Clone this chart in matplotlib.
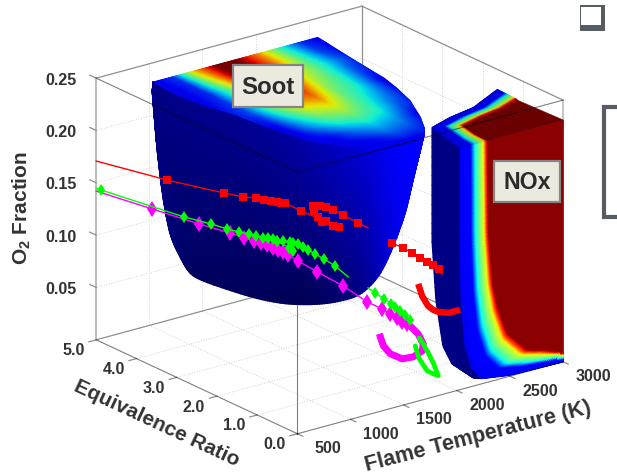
import numpy as np
import matplotlib
matplotlib.use("Agg")
import matplotlib.pyplot as plt
from matplotlib.lines import Line2D
from matplotlib.patches import Rectangle
from matplotlib.transforms import offset_copy
from mpl_toolkits.mplot3d.art3d import Poly3DCollection

plt.rcParams['font.family'] = 'Liberation Sans'
plt.rcParams['mathtext.fontset'] = 'custom'
plt.rcParams['mathtext.bf'] = 'Liberation Sans:bold'

W, H = 617, 472
TEXT = '#333333'

# axes ticks
temp_ticks = [500, 1000, 1500, 2000, 2500, 3000]
phi_ticks = [0.0, 1.0, 2.0, 3.0, 4.0, 5.0]
o2_ticks = [0.05, 0.10, 0.15, 0.20, 0.25]
TOP = 0.2313

# soot top face outline (flame temperature, equivalence ratio)
soot_left_phi = [0.61, 0.68, 0.81, 1.29, 1.60, 2.40, 3.21, 3.85, 4.41, 5.00]
soot_left_T = [1698, 1584, 1465, 1325, 1227, 1154, 1112, 1043, 1021, 1037]
soot_right_phi = [0.61, 0.635, 0.70, 0.96, 1.37, 2.04, 2.59, 3.02, 4.03, 5.00]
soot_right_T = [1698, 1820, 1920, 2058, 2175, 2330, 2410, 2460, 2520, 2585]

# soot level on the top face
soot_table_T = [1000, 1200, 1400, 1600, 1800, 2000, 2200, 2400, 2600]
soot_table_phi = [0.6, 1.0, 1.5, 2.0, 3.0, 4.0, 4.5, 5.0]
soot_table = np.array([
    [.10, .10, .10, .10, .10, .10, .10, .10, .10],
    [.10, .10, .10, .13, .20, .18, .10, .10, .10],
    [.10, .10, .14, .25, .33, .28, .12, .10, .10],
    [.10, .10, .28, .42, .48, .40, .22, .12, .10],
    [.10, .20, .48, .72, .78, .50, .38, .14, .10],
    [.10, .17, .52, .96, 1.0, .66, .45, .25, .10],
    [.10, .17, .62, 1.0, 1.0, .75, .45, .20, .10],
    [.10, .18, .70, 1.0, 1.0, .75, .42, .17, .10],
])

# soot side wall: upper rim and lower silhouette, paired
rim_T = [1037, 1037, 1037, 1037, 1020, 1021, 1043, 1112, 1154, 1227, 1325, 1465, 1584, 1698, 1820, 1920, 2032, 2058]
rim_phi = [5.0, 5.0, 5.0, 5.0, 4.79, 4.41, 3.85, 3.21, 2.40, 1.60, 1.29, 0.81, 0.68, 0.61, 0.635, 0.70, 0.90, 0.96]
low_T = [800, 827, 859, 896, 950, 1003, 1094, 1340, 1501, 1646, 1769, 1913, 2020, 2101, 2159, 2192, 2234, 2256]
low_phi = [4.40, 4.35, 4.28, 4.21, 4.10, 3.99, 3.81, 3.32, 3.00, 2.71, 2.46, 2.17, 1.96, 1.80, 1.68, 1.62, 1.53, 1.49]
low_o2 = [.2401, .1831, .1356, .1025, .0820, .0662, .0594, .0471, .0427, .0430, .0460, .0538, .0738, .1060, .1370, .1630, .1949, .2113]
rim_blue = [.52, .52, .52, .52, .53, .54, .55, .56, .60, .68, .75, .85, .95, 1.0, 1.0, 1.0, 1.0, 1.0]
low_blue = [.52, .50, .48, .46, .42, .38, .36, .35, .33, .33, .40, .50, .75, .90, 1.0, 1.0, 1.0, 1.0]

# NOx front face (equivalence ratio 0): edge of the volume and edge of the red core
nox_edge_T = [2032, 2032, 2042, 2080, 2145, 2237, 2500, 3000]
nox_edge_o2 = [.2313, .142, .085, .041, .017, .005, .001, 0.0]
nox_core_T = [2285, 2295, 2332, 2380, 2472, 2662, 2830, 3000]
nox_core_o2 = [.2313, .1425, .0955, .0705, .042, .021, .016, .0085]

# NOx left wall, front edge to silhouette
nox_wall_T = [2032, 2032, 2042, 2080, 2145, 2237]
nox_wall_o2 = [.2313, .142, .085, .041, .017, .005]
nox_sil_T = [2118, 2118, 2155, 2220, 2292, 2260]
nox_sil_phi = [.925, .925, .925, .925, .89, .28]
nox_sil_o2 = [.2313, .123, .065, .020, .0015, 0.0]

# NOx top face
nox_top_left_T = [2032, 2044, 2118, 2353, 2617, 2990]
nox_top_left_phi = [0.0, .13, .925, 1.10, 1.22, 1.61]
nox_top_core_T = [2285, 2290, 2328, 2560, 2800, 2980]
nox_top_core_phi = [0.0, .30, .71, .85, .95, 1.09]

# colour ramp across the NOx flank
ramp_s = [0, .35, .5, .8, .9, 1]
ramp_v = [.10, .13, .36, .62, .85, 1.0]

# red trajectory
red_T = [500, 880, 1185, 1287, 1356, 1399, 1437, 1469, 1490, 1512, 1597, 1801, 1769, 1731, 1710, 1688, 1667, 1662, 1699, 1731, 1769, 1822, 1902, 1956]
red_phi = [5.00, 4.24, 3.63, 3.43, 3.29, 3.20, 3.13, 3.06, 3.02, 2.98, 2.81, 2.40, 2.46, 2.54, 2.58, 2.62, 2.67, 2.68, 2.60, 2.54, 2.46, 2.36, 2.20, 2.09]
red_o2 = [.1708, .1558, .146, .143, .1427, .1411, .1405, .1398, .139, .1392, .1323, .1187, .1194, .1239, .1227, .1273, .1329, .1376, .1379, .1372, .1347, .1303, .1234, .1191]
red2_T = [2084, 2143, 2192, 2234, 2272, 2304, 2336, 2352]
red2_phi = [1.83, 1.71, 1.62, 1.53, 1.46, 1.39, 1.33, 1.30]
red2_o2 = [.1058, .1016, .0972, .0928, .0893, .0867, .0832, .0776]
red3_T = [2224, 2245, 2277, 2304, 2331, 2384, 2448]
red3_phi = [1.55, 1.51, 1.45, 1.39, 1.34, 1.23, 1.10]
red3_o2 = [.0679, .0566, .0474, .0438, .0421, .0416, .0450]

# green trajectory
green_T = [500, 527, 971, 1116, 1201, 1265, 1319, 1356, 1394, 1421, 1447, 1469, 1501, 1538, 1555, 1581, 1608, 1635, 1672, 1720, 1779, 1849]
green_phi = [5.00, 4.95, 4.06, 3.77, 3.60, 3.47, 3.36, 3.29, 3.21, 3.16, 3.11, 3.06, 3.00, 2.92, 2.89, 2.84, 2.78, 2.73, 2.66, 2.56, 2.44, 2.30]
green_o2 = [.1450, .1433, .1213, .1158, .1118, .1094, .1080, .1064, .1048, .1050, .1043, .1026, .1028, .1022, .1014, .1007, .0981, .0954, .0919, .0875, .0813, .0714]
green_b_T = [1469, 1533, 1555]
green_b_phi = [3.06, 2.93, 2.89]
green_b_o2 = [.1026, .0964, .0938]
green2_T = [1956, 1993, 2042, 2079, 2101, 2127, 2154, 2181, 1835]
green2_phi = [2.09, 2.01, 1.92, 1.84, 1.80, 1.75, 1.69, 1.64, .50]
green2_o2 = [.0618, .0574, .0521, .0476, .0449, .0413, .0377, .0332, .0459]
green3_T = [1835, 1873, 1910, 1968, 2015, 1968, 1910, 1835, 1798]
green3_phi = [.50, .50, .50, .50, .50, .50, .50, .50, .50]
green3_o2 = [.0459, .0392, .0315, .0184, .0048, .0079, .0124, .0260, .0393]

# magenta trajectory
mag_T = [500, 800, 1051, 1217, 1292, 1346, 1383, 1415, 1447, 1474, 1501, 1528, 1581, 1683, 1822, 1951, 2031, 2074, 2111, 2138, 2165]
mag_phi = [5.00, 4.40, 3.90, 3.57, 3.42, 3.31, 3.23, 3.17, 3.11, 3.05, 3.00, 2.94, 2.84, 2.63, 2.36, 2.10, 1.94, 1.85, 1.78, 1.72, 1.67]
mag_o2 = [.1421, .1275, .1153, .1081, .1040, .1015, .1000, .0983, .0957, .0940, .0923, .0897, .0844, .0748, .0626, .0484, .0424, .0380, .0345, .0309, .0293]
mag2_T = [1750, 1825, 1873, 1865, 1780, 1675, 1563, 1498, 1460]
mag2_phi = [.50, .50, .50, .50, .50, .50, .50, .50, .50]
mag2_o2 = [.0597, .0500, .0392, .0327, .0293, .0303, .0382, .0476, .0601]


def resample(vals, n):
    return np.interp(np.linspace(0, 1, n), np.linspace(0, 1, len(vals)), vals)


def rounded(vals, n, k=13):
    # drawing only: takes the corners off a read-off outline, ends stay put
    a = resample(vals, n)
    win = np.hanning(k + 2)[1:-1]
    pad = np.r_[2 * a[0] - a[k:0:-1], a, 2 * a[-1] - a[-2:-k - 2:-1]]
    return np.convolve(pad, win / win.sum(), mode='same')[k:-k]


def loft(a, b, nu, nv):
    # mesh between two matching curves, rows go from a to b
    return a[None, :] + np.linspace(0, 1, nv)[:, None] * (b - a)[None, :]


def soot_level(T, phi):
    cols = [np.interp(phi, soot_table_phi, soot_table[:, j]) for j in range(len(soot_table_T))]
    cols = np.array(cols)
    out = np.zeros_like(T)
    for i in range(T.shape[0]):
        for j in range(T.shape[1]):
            out[i, j] = np.interp(T[i, j], soot_table_T, cols[:, i, j])
    return out


def surf(ax, X, Y, Z, colors, zorder):
    ax.plot_surface(X, Y, Z, facecolors=colors, shade=False, rstride=1, cstride=1,
                    linewidth=1.0, antialiased=True, zorder=zorder)


def blues(level):
    c = np.zeros(level.shape + (4,))
    c[..., 2] = level
    c[..., 3] = 1
    return c


def fig_xy(px, py):
    return px / W, 1 - py / H


fig = plt.figure(figsize=(W / 100, H / 100), dpi=100)
S = 640
ax = fig.add_axes([1 / W, -76.6 / H, S / W, S / H], projection='3d',
                  proj_type='ortho', computed_zorder=False)
ax.set_xlim(500, 3000)
ax.set_ylim(0, 5)
ax.set_zlim(0, 0.25)
ax.set_box_aspect((334, 332, 280), zoom=0.831)
ax.view_init(elev=20.84, azim=-127.3)
ax.set_axis_off()

# dotted grid on floor and back walls
grid = dict(color='#d2d2d2', lw=0.7, ls=':', zorder=1)
for t in temp_ticks[1:-1]:
    ax.plot([t, t], [0, 5], [0, 0], **grid)
    ax.plot([t, t], [5, 5], [0, 0.25], **grid)
for p in phi_ticks[1:-1]:
    ax.plot([500, 3000], [p, p], [0, 0], **grid)
    ax.plot([3000, 3000], [p, p], [0, 0.25], **grid)
for z in o2_ticks[:-1]:
    ax.plot([500, 3000], [5, 5], [z, z], **grid)
    ax.plot([3000, 3000], [0, 5], [z, z], **grid)

# back edges of the box
back = dict(color='#8f8f8f', lw=0.9, zorder=2)
ax.plot([500, 3000], [5, 5], [0, 0], **back)
ax.plot([3000, 3000], [5, 0], [0, 0], **back)
ax.plot([3000, 3000], [5, 5], [0, 0.25], **back)
ax.plot([500, 3000], [5, 5], [0.25, 0.25], **back)
ax.plot([3000, 3000], [5, 0], [0.25, 0.25], **back)
ax.plot([3000, 3000], [0, 0], [0, 0.25], color='#b5b5b5', lw=1.1, zorder=2)
ax.plot([500, 500], [5, 5], [0, 0.25], color='#bdbdbd', lw=1.5, zorder=2)

# tick marks
tick = dict(color='#8f8f8f', lw=0.9, zorder=2)
for t in temp_ticks:
    ax.plot([t, t], [0, -0.13], [0, 0], **tick)
for p in phi_ticks:
    ax.plot([500, 430], [p, p], [0, 0], **tick)
for z in o2_ticks:
    ax.plot([500, 500], [5, 5.16], [z, z], **tick)

# soot volume
nu, nv = 160, 36
X = loft(resample(rim_T, nu), rounded(low_T, nu), nu, nv)
Y = loft(resample(rim_phi, nu), rounded(low_phi, nu), nu, nv)
Z = loft(np.full(nu, TOP), rounded(low_o2, nu), nu, nv)
surf(ax, X, Y, Z, blues(loft(resample(rim_blue, nu), rounded(low_blue, nu), nu, nv)), 3)

row_phi = 0.61 + (5 - 0.61) * np.linspace(0, 1, 130) ** 1.6
left = np.interp(row_phi, soot_left_phi, soot_left_T)
right = np.interp(row_phi, soot_right_phi, soot_right_T)
X = left[:, None] + np.linspace(0, 1, 110)[None, :] * (right - left)[:, None]
Y = np.repeat(row_phi[:, None], 110, axis=1)
vals = soot_level(X, Y)
cols = plt.cm.jet(vals)
cols[..., :3] *= 0.93
surf(ax, X, Y, np.full_like(X, TOP), cols, 3.1)

# NOx volume
X = loft(resample(nox_wall_T, 60), resample(nox_sil_T, 60), 60, 12)
Y = loft(np.zeros(60), resample(nox_sil_phi, 60), 60, 12)
Z = loft(resample(nox_wall_o2, 60), resample(nox_sil_o2, 60), 60, 12)
surf(ax, X, Y, Z, blues(np.full(X.shape, 0.52)), 3)

s = np.linspace(0, 1, 40)
v = np.interp(s, ramp_s, ramp_v)
X = loft(rounded(nox_edge_T, 120, 7), rounded(nox_core_T, 120, 7), 120, 40)
Z = loft(rounded(nox_edge_o2, 120, 7), rounded(nox_core_o2, 120, 7), 120, 40)
cols = plt.cm.jet(np.repeat(v[:, None], 120, axis=1))
cols[..., :3] = np.where(v[:, None, None] > 0.95, np.array([0.545, 0, 0]), cols[..., :3])
surf(ax, X, np.zeros_like(X), Z, cols, 3.1)
core = list(zip(nox_core_T, [0.0] * len(nox_core_T), nox_core_o2)) + [(3000, 0, TOP)]
ax.add_collection3d(Poly3DCollection([core], facecolors='#8b0000', edgecolors='#8b0000',
                                     linewidths=0.4, zorder=3.05))

X = loft(resample(nox_top_left_T, 80), resample(nox_top_core_T, 80), 80, 30)
Y = loft(resample(nox_top_left_phi, 80), resample(nox_top_core_phi, 80), 80, 30)
s = np.linspace(0, 1, 30)
v = np.interp(s, ramp_s, ramp_v)
cols = plt.cm.jet(np.repeat(v[:, None], 80, axis=1))
cols[..., :3] *= 0.88
surf(ax, X, Y, np.full_like(X, TOP), cols, 3.1)
top = list(zip(nox_top_core_T, nox_top_core_phi, [TOP] * 6)) + [(3000, 0.0, TOP)]
ax.add_collection3d(Poly3DCollection([top], facecolors='#6b0000', edgecolors='#6b0000',
                                      linewidths=0.4, zorder=3.2))

# front edges of the box show on top of the volumes
front = dict(color='black', alpha=0.5, lw=0.8, zorder=5)
ax.plot([500, 500], [5, 0], [0.25, 0.25], **front)
ax.plot([500, 3000], [0, 0], [0.25, 0.25], **front)
ax.plot([500, 500], [0, 0], [0, 0.25], **front)
ax.plot([500, 500], [5, 0], [0, 0], **front)
ax.plot([500, 3000], [0, 0], [0, 0], **front)

# trajectories
ax.plot(red_T, red_phi, red_o2, color='red', lw=1, zorder=6)
ax.plot(red_T[1:-1], red_phi[1:-1], red_o2[1:-1], ls='none', marker='s', ms=5.4, color='red', mew=0, zorder=6)
ax.plot(red2_T, red2_phi, red2_o2, color='red', lw=1, zorder=6)
ax.plot(red2_T[:-1], red2_phi[:-1], red2_o2[:-1], ls='none', marker='s', ms=5.4, color='red', mew=0, zorder=6)
ax.plot(red3_T, red3_phi, red3_o2, color='red', lw=4.6, solid_capstyle='butt', zorder=6.5)

ax.plot(mag_T, mag_phi, mag_o2, color='magenta', lw=1, zorder=6.1)
ax.plot(mag_T[1:], mag_phi[1:], mag_o2[1:], ls='none', marker='d', ms=8, color='magenta', mew=0, zorder=6.1)
ax.plot(mag2_T, mag2_phi, mag2_o2, color='magenta', lw=5, solid_capstyle='butt', zorder=6.4)

ax.plot(green_T, green_phi, green_o2, color='lime', lw=1, zorder=6.2)
ax.plot(green_T[1:-1], green_phi[1:-1], green_o2[1:-1], ls='none', marker='d', ms=6, color='lime', mew=0, zorder=6.2)
ax.plot(green_b_T, green_b_phi, green_b_o2, color='lime', lw=1, marker='d', ms=6, mew=0, zorder=6.2)
ax.plot(green2_T, green2_phi, green2_o2, color='lime', lw=1, zorder=6.2)
ax.plot(green2_T[1:-1], green2_phi[1:-1], green2_o2[1:-1], ls='none', marker='d', ms=6, color='lime', mew=0, zorder=6.2)
ax.plot(green3_T, green3_phi, green3_o2, color='lime', lw=3.4, solid_capstyle='round', zorder=6.6)

# tick labels
lab = dict(color=TEXT, fontsize=11.5, fontweight='bold', ha='center', va='center', zorder=9)
for z in o2_ticks:
    tr = offset_copy(ax.transData, fig=fig, x=-35, y=-2, units='dots')
    ax.text(500, 5, z, '%.2f' % z, transform=tr, **lab)
for p in phi_ticks:
    tr = offset_copy(ax.transData, fig=fig, x=-23, y=-11, units='dots')
    ax.text(500, p, 0, '%.1f' % p, transform=tr, **lab)
for t in temp_ticks:
    tr = offset_copy(ax.transData, fig=fig, x=30, y=-15, units='dots')
    ax.text(t, 0, 0, '%d' % t, transform=tr, **lab)

# axis titles
ttl = dict(color=TEXT, fontweight='bold', ha='center', va='center', rotation_mode='anchor')
fig.text(*fig_xy(22, 208), r'$\mathbf{O_2}$ Fraction', rotation=90, fontsize=15, **ttl)
fig.text(*fig_xy(157, 423), 'Equivalence Ratio', rotation=-25, fontsize=15, **ttl)
fig.text(*fig_xy(478, 437), 'Flame Temperature (K)', rotation=14.5, fontsize=15.5, **ttl)


def label_box(x0, y0, x1, y1, txt, size):
    fx, fy = fig_xy(x0, y1)
    fig.add_artist(Rectangle((fx, fy), (x1 - x0) / W, (y1 - y0) / H, transform=fig.transFigure,
                             facecolor='#ece9df', edgecolor='#858585', lw=1.6, zorder=10))
    fig.text(*fig_xy((x0 + x1) / 2, (y0 + y1) / 2 + 1), txt, fontsize=size, fontweight='bold',
             color='#2b2b2b', ha='center', va='center', zorder=11)


label_box(233, 65, 303, 107, 'Soot', 17.3)
label_box(494, 161, 560, 202, 'NOx', 16.7)

# bits of page furniture at the right edge
fx, fy = fig_xy(579.5, 31)
fig.add_artist(Rectangle((fx, fy), 25.5 / W, 26 / H, transform=fig.transFigure, facecolor='#565c64', edgecolor='none', zorder=10))
fx, fy = fig_xy(581, 25)
fig.add_artist(Rectangle((fx, fy), 20 / W, 18 / H, transform=fig.transFigure, facecolor='white', edgecolor='none', zorder=10))
xs, ys = zip(*[fig_xy(617, 107), fig_xy(604, 107), fig_xy(604, 217), fig_xy(617, 217)])
fig.add_artist(Line2D(xs, ys, transform=fig.transFigure, color='#565c64', lw=3, solid_joinstyle='miter', zorder=10))

fig.savefig('out.png', dpi=100)
